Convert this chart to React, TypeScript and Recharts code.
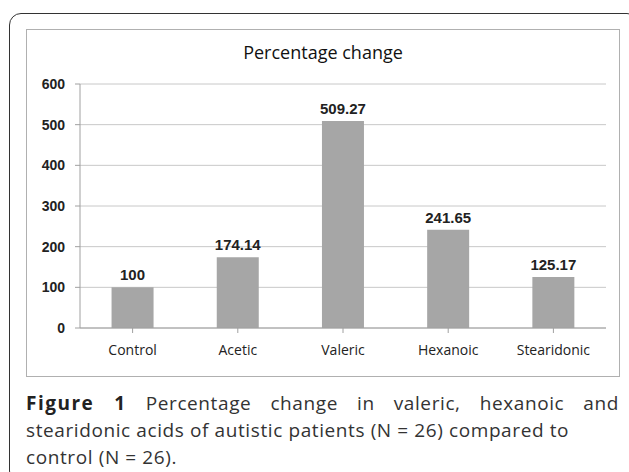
import { BarChart, Bar, XAxis, YAxis, CartesianGrid, LabelList } from "recharts";

// valeurs
const acides = ["Control", "Acetic", "Valeric", "Hexanoic", "Stearidonic"];
const pourcentages = [100, 174.14, 509.27, 241.65, 125.17];
const graduations = [0, 100, 200, 300, 400, 500, 600];

const donnees = acides.map((nom, i) => ({ nom, valeur: pourcentages[i] }));

const police = "'Open Sans', 'Noto Sans', sans-serif";
const arial = "'Liberation Sans', Arial, sans-serif";

const ligne = { height: 27, whiteSpace: "nowrap" as const };

export default function App() {
  return (
    <div style={{ position: "absolute", left: 0, top: 0, width: 629, height: 472, background: "#fff", overflow: "hidden" }}>
      {/* cadre arrondi extérieur */}
      <div style={{
        position: "absolute", left: 9, top: 13, width: 630, height: 470,
        border: "1.5px solid #333", borderRadius: 12, boxSizing: "border-box",
      }} />
      {/* cadre du graphique */}
      <div style={{
        position: "absolute", left: 26, top: 29, width: 594, height: 348,
        border: "1px solid #b0b0b0", boxSizing: "border-box",
      }} />
      <div style={{
        position: "absolute", left: 26, top: 40, width: 594, textAlign: "center",
        fontFamily: police, fontSize: 18, color: "#111",
      }}>
        Percentage change
      </div>
      <div style={{ position: "absolute", left: 0, top: 0 }}>
        <BarChart width={629} height={472} data={donnees}
          margin={{ top: 84, right: 23, left: 36, bottom: 114 }} barCategoryGap="30%">
          <CartesianGrid vertical={false} stroke="#c8c8c8" />
          <XAxis dataKey="nom" axisLine={{ stroke: "#a0a0a0" }} tickLine={{ stroke: "#a0a0a0" }}
            interval={0} height={30} tickSize={5} tickMargin={12}
            tick={{ fontFamily: police, fontSize: 14, fill: "#222" }} />
          <YAxis domain={[0, 600]} ticks={graduations} width={44}
            axisLine={{ stroke: "#a0a0a0" }} tickLine={{ stroke: "#a0a0a0" }} tickSize={5} tickMargin={10}
            tick={{ fontFamily: arial, fontSize: 14, fontWeight: "bold", fill: "#222" }} />
          <Bar dataKey="valeur" fill="#a6a6a6" isAnimationActive={false}>
            <LabelList dataKey="valeur" position="top" offset={7}
              style={{ fontFamily: arial, fontSize: 15, fontWeight: "bold", fill: "#222" }} />
          </Bar>
        </BarChart>
      </div>
      {/* légende de la figure */}
      <div style={{
        position: "absolute", left: 26, top: 390, width: 593,
        fontFamily: police, fontSize: 19, lineHeight: "27px", color: "#333",
        letterSpacing: 0.6,
      }}>
        <div style={{ ...ligne, textAlign: "justify", textAlignLast: "justify", whiteSpace: "normal" }}>
          <span style={{ fontWeight: "bold", letterSpacing: 1.5, color: "#222" }}>Figure 1</span>{" "}
          Percentage change in valeric, hexanoic and
        </div>
        <div style={ligne}>stearidonic acids of autistic patients (N = 26) compared to</div>
        <div style={ligne}>control (N = 26).</div>
      </div>
    </div>
  );
}
